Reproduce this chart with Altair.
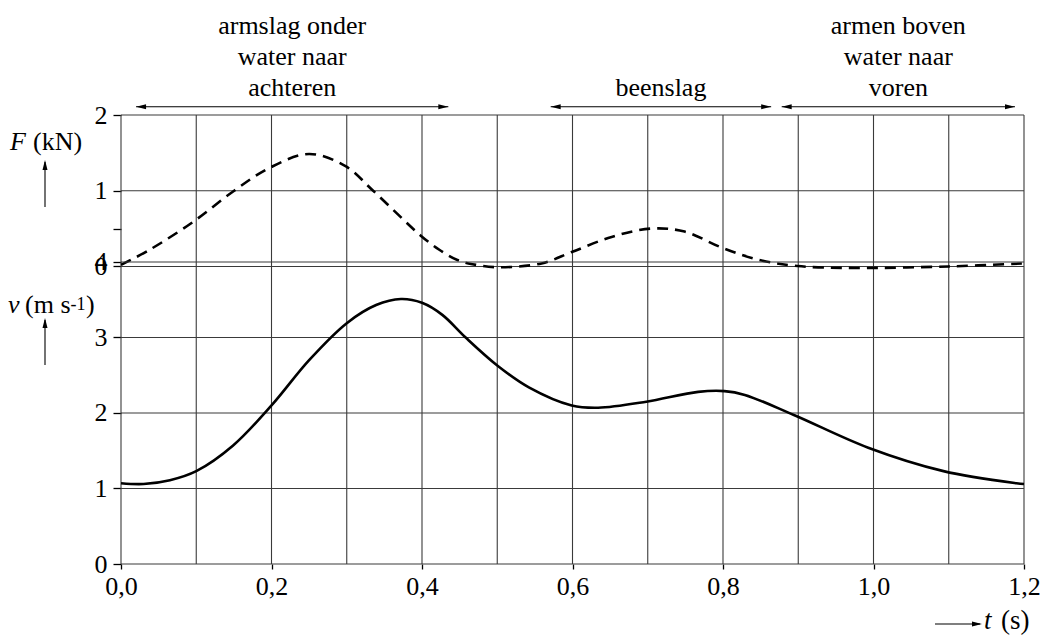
import altair as alt
import pandas as pd

# ---------------- data ----------------
t_F = [0.0, 0.038, 0.096, 0.149, 0.197, 0.25, 0.299, 0.334, 0.398, 0.423, 0.447, 0.467,
       0.5, 0.559, 0.599, 0.652, 0.705, 0.749, 0.798, 0.846, 0.899, 0.974, 1.1, 1.2]
F_kN = [0.02, 0.22, 0.59, 0.99, 1.30, 1.485, 1.32, 1.01, 0.41, 0.22, 0.085, 0.03,
        -0.01, 0.04, 0.19, 0.39, 0.50, 0.46, 0.25, 0.09, 0.005, -0.02, 0.0, 0.04]

t_v = [0.0, 0.03, 0.065, 0.1, 0.149, 0.2, 0.25, 0.3, 0.339, 0.372, 0.4, 0.427, 0.458,
       0.5, 0.542, 0.599, 0.634, 0.698, 0.767, 0.802, 0.829, 0.895, 0.993, 1.093, 1.19, 1.2]
v_ms = [1.07, 1.06, 1.11, 1.23, 1.57, 2.10, 2.70, 3.19, 3.43, 3.51, 3.46, 3.30, 3.00,
        2.63, 2.34, 2.10, 2.07, 2.15, 2.28, 2.29, 2.24, 1.97, 1.54, 1.23, 1.07, 1.06]

t_grid = [0.0, 0.1, 0.2, 0.3, 0.4, 0.5, 0.6, 0.7, 0.8, 0.9, 1.0, 1.1, 1.2]
t_ticks = [0.0, 0.2, 0.4, 0.6, 0.8, 1.0, 1.2]
F_grid = [0, 1, 2]
F_ticks = [0, 0.5, 1, 2]
v_grid = [0, 1, 2, 3, 4]

phase_start = [0.02, 0.571, 0.878]
phase_end = [0.435, 0.864, 1.188]
phase_line1 = ["armslag onder", "", "armen boven"]
phase_line2 = ["water naar", "", "water naar"]
phase_line3 = ["achteren", "beenslag", "voren"]

# ---------------- styling ----------------
FONT = "Liberation Serif"
FS = 26
GRID = "#3a3a3a"
X_SCALE = alt.Scale(domain=[0, 1.2], nice=False, zero=False)
F_SCALE = alt.Scale(domain=[-3.93, 2.0], nice=False, zero=False)
V_SCALE = alt.Scale(domain=[0, 5.947], nice=False, zero=False)

LEFT_HEAD = "M 0 0 L 2 -0.5 L 2 0.5 Z"
RIGHT_HEAD = "M 0 0 L -2 -0.5 L -2 0.5 Z"
UP_HEAD = "M 0 0 L -0.5 2 L 0.5 2 Z"

axis_common = dict(domain=False, grid=False, labelFlush=False, title=None,
                   labelOverlap=False, tickColor="black",
                   tickWidth=1.3, labelFont=FONT, labelFontSize=FS,
                   labelColor="black")

x_axis = alt.Axis(values=t_ticks, tickSize=5, labelPadding=4,
                  labelExpr="replace(format(datum.value, '.1f'), '.', ',')",
                  **axis_common)
F_axis = alt.Axis(values=F_ticks, orient="left", tickSize=8, labelPadding=6,
                  labelExpr="datum.value == 0.5 ? '' : format(datum.value, 'd')",
                  **axis_common)
v_axis = alt.Axis(values=v_grid, orient="left", tickSize=8, labelPadding=6,
                  labelExpr="format(datum.value, 'd')", **axis_common)

X_T = alt.X("t:Q", scale=X_SCALE, axis=x_axis)

df_F = pd.DataFrame({"t": t_F, "F": F_kN})
df_v = pd.DataFrame({"t": t_v, "v": v_ms})
df_phase = pd.DataFrame({"t0": phase_start, "t1": phase_end,
                         "l1": phase_line1, "l2": phase_line2, "l3": phase_line3})

# ---------------- grid ----------------
tgrid = alt.Chart(pd.DataFrame({"t": t_grid})).mark_rule(
    color=GRID, strokeWidth=1.1).encode(x=X_T)

F_gr = alt.Chart(pd.DataFrame({"F": F_grid})).mark_rule(
    color=GRID, strokeWidth=1.1).encode(y=alt.Y("F:Q", scale=F_SCALE, axis=F_axis))
v_gr = alt.Chart(pd.DataFrame({"v": v_grid})).mark_rule(
    color=GRID, strokeWidth=1.1).encode(y=alt.Y("v:Q", scale=V_SCALE, axis=v_axis))

# ---------------- curves ----------------
F_line = alt.Chart(df_F).mark_line(
    color="black", strokeWidth=2.6, strokeDash=[11, 7], interpolate="catmull-rom"
).encode(x=X_T, y=alt.Y("F:Q", scale=F_SCALE, axis=F_axis))

v_line = alt.Chart(df_v).mark_line(
    color="black", strokeWidth=2.6, interpolate="catmull-rom"
).encode(x=X_T, y=alt.Y("v:Q", scale=V_SCALE, axis=v_axis))

F_layer = alt.layer(F_gr, F_line)
v_layer = alt.layer(v_gr, v_line)

# ---------------- phase annotations ----------------
ARROW_Y = -8.3
ph = alt.Chart(df_phase)
ph_rule = ph.mark_rule(color="black", strokeWidth=1.1).encode(
    x=alt.X("t0:Q", scale=X_SCALE, axis=x_axis), x2="t1:Q", y=alt.value(ARROW_Y))
ph_lh = ph.mark_point(shape=LEFT_HEAD, filled=True, size=100, color="black",
                      opacity=1, strokeWidth=0).encode(
    x=alt.X("t0:Q", scale=X_SCALE, axis=x_axis), y=alt.value(ARROW_Y))
ph_rh = ph.mark_point(shape=RIGHT_HEAD, filled=True, size=100, color="black",
                      opacity=1, strokeWidth=0).encode(
    x=alt.X("t1:Q", scale=X_SCALE, axis=x_axis), y=alt.value(ARROW_Y))


def phase_text(field, ypix):
    return ph.transform_calculate(mid="(datum.t0 + datum.t1) / 2").mark_text(
        font=FONT, fontSize=FS, align="center", baseline="alphabetic", color="black"
    ).encode(x=alt.X("mid:Q", scale=X_SCALE, axis=x_axis), y=alt.value(ypix),
             text=alt.Text(field + ":N"))


ph_t1 = phase_text("l1", -81)
ph_t2 = phase_text("l2", -50)
ph_t3 = phase_text("l3", -19)


# ---------------- axis titles ----------------
def label(txt, x, y, size=FS, style="normal", align="left"):
    return alt.Chart(pd.DataFrame({"s": [txt]})).mark_text(
        font=FONT, fontSize=size, fontStyle=style, align=align,
        baseline="alphabetic", color="black"
    ).encode(x=alt.value(x), y=alt.value(y), text="s:N")


def arrow_rule(x, y, x2=None, y2=None):
    enc = dict(x=alt.value(x), y=alt.value(y))
    if x2 is not None:
        enc["x2"] = alt.value(x2)
    if y2 is not None:
        enc["y2"] = alt.value(y2)
    return alt.Chart(pd.DataFrame({"a": [0]})).mark_rule(
        color="black", strokeWidth=1.1).encode(**enc)


def head(shape, x, y):
    return alt.Chart(pd.DataFrame({"a": [0]})).mark_point(
        shape=shape, filled=True, size=100, color="black", opacity=1, strokeWidth=0
    ).encode(x=alt.value(x), y=alt.value(y))


titles = [
    label("F", -111, 35, style="italic"),
    label("(kN)", -88, 35),
    arrow_rule(-76, 92, y2=47),
    head(UP_HEAD, -76, 45),
    label("v", -113, 198, style="italic"),
    label("(m s", -96, 198),
    label("-1", -50.5, 194.5, size=18),
    label(")", -35, 198),
    arrow_rule(-76, 250, y2=205),
    head(UP_HEAD, -76, 203),
    arrow_rule(814, 509, x2=859),
    head(RIGHT_HEAD, 861, 509),
    label("t", 863, 514, size=27, style="italic"),
    label("(s)", 880, 514, size=27),
]

chart = alt.layer(
    tgrid, F_layer, v_layer, ph_rule, ph_lh, ph_rh, ph_t1, ph_t2, ph_t3, *titles
).resolve_scale(y="independent").properties(
    width=903, height=449,
    autosize=alt.AutoSizeParams(type="none"),
    padding={"left": 113, "top": 107, "right": 16, "bottom": 72},
).configure_view(stroke="transparent")

chart.save("out.html", embed_options={"renderer": "svg", "actions": False})
